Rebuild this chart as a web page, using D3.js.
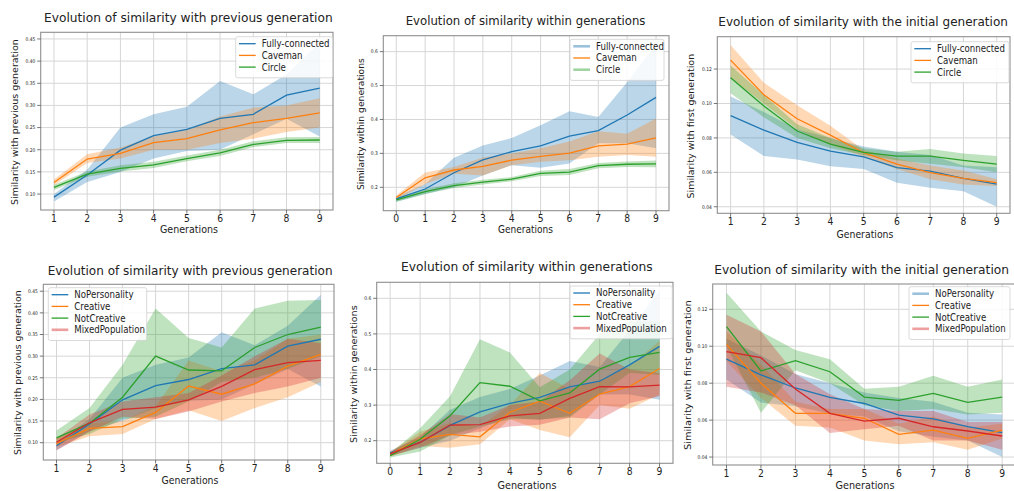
<!DOCTYPE html>
<html>
<head>
<meta charset="utf-8">
<script src="https://cdn.jsdelivr.net/npm/d3@7/dist/d3.min.js"></script>
<style>
  html, body { margin: 0; padding: 0; background: #fff; }
  svg { display: block; }
  text { font-family: "DejaVu Sans", sans-serif; fill: #222; }
</style>
</head>
<body>
<script>
// ---------- data ----------
const gensFrom1 = [1, 2, 3, 4, 5, 6, 7, 8, 9];
const gensFrom0 = [0, 1, 2, 3, 4, 5, 6, 7, 8, 9];

const ticksPrev = [0.10, 0.15, 0.20, 0.25, 0.30, 0.35, 0.40, 0.45];
const ticksWithin = [0.2, 0.3, 0.4, 0.5, 0.6];
const ticksInit = [0.04, 0.06, 0.08, 0.10, 0.12];

const topSeries = ["Fully-connected", "Caveman", "Circle"];
const bottomSeries = ["NoPersonality", "Creative", "NotCreative", "MixedPopulation"];

// similarity with previous generation (network topologies)
const prevFC     = [0.093, 0.143, 0.199, 0.232, 0.246, 0.271, 0.280, 0.323, 0.339];
const prevFCLo   = [0.083, 0.127, 0.150, 0.180, 0.197, 0.200, 0.235, 0.270, 0.230];
const prevFCHi   = [0.100, 0.155, 0.250, 0.280, 0.297, 0.355, 0.325, 0.370, 0.442];
const prevCave   = [0.126, 0.179, 0.192, 0.216, 0.225, 0.245, 0.261, 0.271, 0.283];
const prevCaveLo = [0.120, 0.170, 0.180, 0.200, 0.200, 0.215, 0.225, 0.240, 0.250];
const prevCaveHi = [0.133, 0.190, 0.205, 0.230, 0.245, 0.275, 0.295, 0.300, 0.316];
const prevCirc   = [0.115, 0.145, 0.158, 0.166, 0.180, 0.193, 0.212, 0.221, 0.222];
const prevCircLo = [0.109, 0.139, 0.151, 0.159, 0.174, 0.186, 0.206, 0.215, 0.215];
const prevCircHi = [0.121, 0.151, 0.165, 0.173, 0.187, 0.200, 0.219, 0.228, 0.229];

// similarity within generations (network topologies)
const withinFC     = [0.166, 0.195, 0.243, 0.281, 0.305, 0.322, 0.351, 0.367, 0.413, 0.465];
const withinFCLo   = [0.158, 0.180, 0.200, 0.235, 0.265, 0.258, 0.270, 0.330, 0.330, 0.315];
const withinFCHi   = [0.172, 0.210, 0.287, 0.323, 0.345, 0.383, 0.424, 0.407, 0.510, 0.622];
const withinCave   = [0.170, 0.228, 0.251, 0.262, 0.280, 0.291, 0.301, 0.322, 0.327, 0.346];
const withinCaveLo = [0.163, 0.210, 0.240, 0.235, 0.265, 0.275, 0.280, 0.290, 0.295, 0.290];
const withinCaveHi = [0.176, 0.244, 0.260, 0.288, 0.300, 0.315, 0.335, 0.365, 0.358, 0.403];
const withinCirc   = [0.163, 0.187, 0.205, 0.215, 0.224, 0.241, 0.245, 0.264, 0.268, 0.269];
const withinCircLo = [0.157, 0.180, 0.198, 0.208, 0.218, 0.233, 0.236, 0.256, 0.260, 0.259];
const withinCircHi = [0.169, 0.194, 0.212, 0.222, 0.230, 0.249, 0.254, 0.272, 0.276, 0.279];

// similarity with the initial generation (network topologies)
const initFC     = [0.0930, 0.0845, 0.0774, 0.0723, 0.0690, 0.0627, 0.0607, 0.0565, 0.0532];
const initFCLo   = [0.0820, 0.0695, 0.0675, 0.0635, 0.0620, 0.0540, 0.0510, 0.0490, 0.0400];
const initFCHi   = [0.1040, 0.0950, 0.0850, 0.0800, 0.0750, 0.0720, 0.0700, 0.0640, 0.0630];
const initCave   = [0.1252, 0.1050, 0.0911, 0.0816, 0.0714, 0.0648, 0.0598, 0.0565, 0.0540];
const initCaveLo = [0.1150, 0.1000, 0.0850, 0.0760, 0.0690, 0.0620, 0.0560, 0.0530, 0.0520];
const initCaveHi = [0.1340, 0.1120, 0.0990, 0.0870, 0.0730, 0.0680, 0.0640, 0.0610, 0.0560];
const initCirc   = [0.1150, 0.0985, 0.0840, 0.0764, 0.0716, 0.0694, 0.0694, 0.0670, 0.0648];
const initCircLo = [0.1060, 0.0920, 0.0800, 0.0740, 0.0700, 0.0670, 0.0650, 0.0630, 0.0600];
const initCircHi = [0.1220, 0.1050, 0.0880, 0.0800, 0.0740, 0.0720, 0.0735, 0.0710, 0.0695];

// similarity with previous generation (personalities)
const prevCreative      = [0.098, 0.133, 0.137, 0.170, 0.231, 0.212, 0.236, 0.277, 0.304];
const prevCreativeLo    = [0.090, 0.115, 0.120, 0.155, 0.175, 0.150, 0.180, 0.205, 0.240];
const prevCreativeHi    = [0.110, 0.145, 0.150, 0.185, 0.290, 0.265, 0.290, 0.340, 0.350];
const prevNotCreative   = [0.111, 0.145, 0.205, 0.300, 0.268, 0.266, 0.320, 0.350, 0.367];
const prevNotCreativeLo = [0.100, 0.120, 0.155, 0.160, 0.195, 0.240, 0.250, 0.270, 0.300];
const prevNotCreativeHi = [0.128, 0.180, 0.280, 0.410, 0.342, 0.320, 0.410, 0.428, 0.430];
const prevMixed         = [0.101, 0.146, 0.177, 0.182, 0.199, 0.230, 0.269, 0.285, 0.290];
const prevMixedLo       = [0.082, 0.125, 0.160, 0.155, 0.172, 0.195, 0.215, 0.230, 0.250];
const prevMixedHi       = [0.110, 0.165, 0.195, 0.205, 0.215, 0.255, 0.300, 0.340, 0.330];

// similarity within generations (personalities)
const withinCreative      = [0.1625, 0.205, 0.218, 0.211, 0.280, 0.311, 0.277, 0.331, 0.352, 0.403];
const withinCreativeLo    = [0.155, 0.185, 0.180, 0.190, 0.260, 0.230, 0.210, 0.300, 0.290, 0.330];
const withinCreativeHi    = [0.168, 0.225, 0.250, 0.240, 0.300, 0.390, 0.345, 0.370, 0.410, 0.480];
const withinNotCreative   = [0.158, 0.204, 0.270, 0.363, 0.353, 0.312, 0.334, 0.401, 0.434, 0.448];
const withinNotCreativeLo = [0.153, 0.170, 0.215, 0.240, 0.260, 0.260, 0.265, 0.330, 0.390, 0.385];
const withinNotCreativeHi = [0.165, 0.235, 0.325, 0.485, 0.448, 0.350, 0.400, 0.500, 0.535, 0.535];
const withinMixed         = [0.163, 0.195, 0.244, 0.245, 0.270, 0.277, 0.319, 0.352, 0.351, 0.356];
const withinMixedLo       = [0.157, 0.180, 0.215, 0.225, 0.240, 0.245, 0.265, 0.260, 0.305, 0.325];
const withinMixedHi       = [0.168, 0.215, 0.275, 0.265, 0.300, 0.310, 0.370, 0.445, 0.400, 0.390];

// similarity with the initial generation (personalities)
const initCreative      = [0.1010, 0.0800, 0.0637, 0.0637, 0.0610, 0.0523, 0.0546, 0.0501, 0.0546];
const initCreativeLo    = [0.0920, 0.0720, 0.0570, 0.0560, 0.0490, 0.0470, 0.0480, 0.0440, 0.0500];
const initCreativeHi    = [0.1080, 0.0900, 0.0700, 0.0660, 0.0660, 0.0580, 0.0620, 0.0560, 0.0580];
const initNotCreative   = [0.1106, 0.0866, 0.0922, 0.0862, 0.0725, 0.0707, 0.0745, 0.0696, 0.0725];
const initNotCreativeLo = [0.1000, 0.0640, 0.0870, 0.0800, 0.0680, 0.0650, 0.0660, 0.0630, 0.0640];
const initNotCreativeHi = [0.1290, 0.1080, 0.0980, 0.0930, 0.0770, 0.0780, 0.0840, 0.0780, 0.0820];
const initMixed         = [0.0971, 0.0938, 0.0768, 0.0637, 0.0595, 0.0610, 0.0564, 0.0541, 0.0514];
const initMixedLo       = [0.0780, 0.0750, 0.0680, 0.0530, 0.0550, 0.0570, 0.0490, 0.0490, 0.0440];
const initMixedHi       = [0.1170, 0.1080, 0.0850, 0.0740, 0.0660, 0.0650, 0.0650, 0.0590, 0.0590];

// ---------- styling ----------
const palette = ["#1f77b4", "#ff7f0e", "#2ca02c", "#d62728"];
const SX = 0.88; // horizontal glyph compression of the figure

const W = 1014, H = 491;
const svg = d3.select("body").append("svg").attr("width", W).attr("height", H);

function hText(g, x, y, str, size, anchor) {
  return g.append("text")
    .attr("transform", `translate(${x},${y}) scale(${SX},1)`)
    .attr("font-size", size)
    .attr("text-anchor", anchor || "start")
    .text(str);
}

// text placed from its left end and stretched/compressed to a given width
function fitText(g, x, y, str, size, width, rotated) {
  const t = g.append("text").attr("font-size", size).text(str);
  const natural = t.node().getComputedTextLength();
  const k = width / natural;
  if (rotated) {
    // vertical label: (x, y) is the baseline point at the bottom end
    t.attr("transform", `translate(${x},${y}) rotate(-90) scale(${k},${SX})`);
  } else {
    t.attr("transform", `translate(${x},${y}) scale(${k},1)`);
  }
  return t;
}

// ---------- panels ----------
const panels = [
  {
    frame: { l: 40.7, r: 333, t: 32.3, b: 210 }, xd: [0.6, 9.4], yd: [0.064, 0.465],
    x: gensFrom1, yTicks: ticksPrev, fmt: ".2f",
    title: "Evolution of similarity with previous generation", tPos: [44, 22, 289],
    xl: [189, 233, 58], yLabel: "Similarity with previous generation", ylPos: [17.5, 122, 166],
    names: topSeries, thick: [false, false, false],
    series: [[prevFC, prevFCLo, prevFCHi], [prevCave, prevCaveLo, prevCaveHi], [prevCirc, prevCircLo, prevCircHi]],
    legend: { l: 235.7, t: 36.7, w: 97 }
  },
  {
    frame: { l: 383.3, r: 669, t: 35.7, b: 210.7 }, xd: [-0.45, 9.45], yd: [0.131, 0.647],
    x: gensFrom0, yTicks: ticksWithin, fmt: ".1f",
    title: "Evolution of similarity within generations", tPos: [405.7, 25, 240],
    xl: [525.5, 233, 55], yLabel: "Similarity within generations", ylPos: [364, 124, 132],
    names: topSeries, thick: [true, false, true],
    series: [[withinFC, withinFCLo, withinFCHi], [withinCave, withinCaveLo, withinCaveHi], [withinCirc, withinCircLo, withinCircHi]],
    legend: { l: 570, t: 39.3, w: 94 }
  },
  {
    frame: { l: 717.3, r: 1010, t: 36.7, b: 213.3 }, xd: [0.6, 9.4], yd: [0.0362, 0.1388],
    x: gensFrom1, yTicks: ticksInit, fmt: ".2f",
    title: "Evolution of similarity with the initial generation", tPos: [718.3, 26, 290],
    xl: [865, 238, 57], yLabel: "Similarity with first generation", ylPos: [694, 126, 145],
    names: topSeries, thick: [false, false, false],
    series: [[initFC, initFCLo, initFCHi], [initCave, initCaveLo, initCaveHi], [initCirc, initCircLo, initCircHi]],
    legend: { l: 911, t: 41.7, w: 98 }
  },
  {
    frame: { l: 43.3, r: 334, t: 284.3, b: 460 }, xd: [0.6, 9.4], yd: [0.060, 0.466],
    x: gensFrom1, yTicks: ticksPrev, fmt: ".2f",
    title: "Evolution of similarity with previous generation", tPos: [47.7, 274.5, 285],
    xl: [190, 484, 57], yLabel: "Similarity with previous generation", ylPos: [21, 372.5, 165],
    names: bottomSeries, thick: [false, false, false, true],
    series: [[prevFC, prevFCLo, prevFCHi], [prevCreative, prevCreativeLo, prevCreativeHi],
             [prevNotCreative, prevNotCreativeLo, prevNotCreativeHi], [prevMixed, prevMixedLo, prevMixedHi]],
    legend: { l: 48.3, t: 287.7, w: 98.4 }
  },
  {
    frame: { l: 376.7, r: 673, t: 282.3, b: 463.3 }, xd: [-0.45, 9.45], yd: [0.1365, 0.645],
    x: gensFrom0, yTicks: ticksWithin, fmt: ".1f",
    title: "Evolution of similarity within generations", tPos: [401, 271, 252],
    xl: [527, 489, 59], yLabel: "Similarity within generations", ylPos: [356.5, 374, 138],
    names: bottomSeries, thick: [false, false, false, true],
    series: [[withinFC, withinFCLo, withinFCHi], [withinCreative, withinCreativeLo, withinCreativeHi],
             [withinNotCreative, withinNotCreativeLo, withinNotCreativeHi], [withinMixed, withinMixedLo, withinMixedHi]],
    legend: { l: 570, t: 286, w: 102.3 }
  },
  {
    frame: { l: 712.7, r: 1016, t: 284, b: 465 }, xd: [0.6, 9.4], yd: [0.0357, 0.1337],
    x: gensFrom1, yTicks: ticksInit, fmt: ".2f",
    title: "Evolution of similarity with the initial generation", tPos: [714.3, 273.5, 295],
    xl: [865, 489, 59], yLabel: "Similarity with first generation", ylPos: [690.5, 375, 150],
    names: bottomSeries, thick: [true, false, false, true],
    series: [[initFC, initFCLo, initFCHi], [initCreative, initCreativeLo, initCreativeHi],
             [initNotCreative, initNotCreativeLo, initNotCreativeHi], [initMixed, initMixedLo, initMixedHi]],
    legend: { l: 909, t: 286.7, w: 101 }
  }
];

panels.forEach((p, pi) => {
  const g = svg.append("g");
  const f = p.frame;
  const x = d3.scaleLinear().domain(p.xd).range([f.l, f.r]);
  const y = d3.scaleLinear().domain(p.yd).range([f.b, f.t]);
  const clipId = "clip" + pi;
  svg.append("clipPath").attr("id", clipId)
    .append("rect").attr("x", f.l).attr("y", f.t).attr("width", f.r - f.l).attr("height", f.b - f.t);

  // grid
  g.append("g").selectAll("line").data(p.x).join("line")
    .attr("x1", d => x(d)).attr("x2", d => x(d)).attr("y1", f.t).attr("y2", f.b)
    .attr("stroke", "#d6d6d6").attr("stroke-width", 1);
  g.append("g").selectAll("line").data(p.yTicks).join("line")
    .attr("x1", f.l).attr("x2", f.r).attr("y1", d => y(d)).attr("y2", d => y(d))
    .attr("stroke", "#d6d6d6").attr("stroke-width", 1);

  // bands and mean lines
  const plot = g.append("g").attr("clip-path", `url(#${clipId})`);
  p.series.forEach((s, si) => {
    const [mean, lo, hi] = s;
    const rows = p.x.map((gx, i) => ({ gx, m: mean[i], lo: lo[i], hi: hi[i] }));
    plot.append("path").datum(rows)
      .attr("d", d3.area().x(d => x(d.gx)).y0(d => y(d.lo)).y1(d => y(d.hi)))
      .attr("fill", palette[si]).attr("fill-opacity", 0.3).attr("stroke", "none");
  });
  p.series.forEach((s, si) => {
    const rows = p.x.map((gx, i) => ({ gx, m: s[0][i] }));
    plot.append("path").datum(rows)
      .attr("d", d3.line().x(d => x(d.gx)).y(d => y(d.m)))
      .attr("fill", "none").attr("stroke", palette[si]).attr("stroke-width", 1.3);
  });

  // frame
  g.append("rect").attr("x", f.l).attr("y", f.t).attr("width", f.r - f.l).attr("height", f.b - f.t)
    .attr("fill", "none").attr("stroke", "#8f8f8f").attr("stroke-width", 1.1);

  // x ticks
  const xt = g.append("g");
  p.x.forEach(v => {
    xt.append("line").attr("x1", x(v)).attr("x2", x(v)).attr("y1", f.b).attr("y2", f.b + 3.5)
      .attr("stroke", "#555").attr("stroke-width", 0.8);
    hText(xt, x(v), f.b + 11.5, String(v), 10.5, "middle").attr("fill", "#333");
  });
  // y ticks
  const yt = g.append("g");
  const fmt = d3.format(p.fmt);
  p.yTicks.forEach(v => {
    yt.append("line").attr("x1", f.l - 3.5).attr("x2", f.l).attr("y1", y(v)).attr("y2", y(v))
      .attr("stroke", "#555").attr("stroke-width", 0.8);
    hText(yt, f.l - 5.5, y(v) + 1.8, fmt(v), 5, "end").attr("fill", "#444");
  });

  // title, axis labels
  fitText(g, p.tPos[0], p.tPos[1], p.title, 12.5, p.tPos[2], false);
  fitText(g, p.xl[0] - p.xl[2] / 2, p.xl[1], "Generations", 11, p.xl[2], false).attr("fill", "#333");
  fitText(g, p.ylPos[0], p.ylPos[1] + p.ylPos[2] / 2, p.yLabel, 10.5, p.ylPos[2], true).attr("fill", "#333");

  // legend
  const L = p.legend, n = p.names.length;
  const lg = g.append("g");
  lg.append("rect").attr("x", L.l).attr("y", L.t).attr("width", L.w).attr("height", 6 + n * 11.7)
    .attr("rx", 2).attr("fill", "#fff").attr("fill-opacity", 0.85)
    .attr("stroke", "#d0d0d0").attr("stroke-width", 0.8);
  p.names.forEach((nm, i) => {
    const ry = L.t + 7 + i * 11.7;
    const thick = p.thick[i];
    lg.append("line").attr("x1", L.l + 3.3).attr("x2", L.l + 20).attr("y1", ry).attr("y2", ry)
      .attr("stroke", palette[i])
      .attr("stroke-width", thick ? 2.6 : 1.3)
      .attr("stroke-opacity", thick ? 0.45 : 1);
    hText(lg, L.l + 26, ry + 3.4, nm, 9.8, "start").attr("fill", "#333");
  });
});
</script>
</body>
</html>
